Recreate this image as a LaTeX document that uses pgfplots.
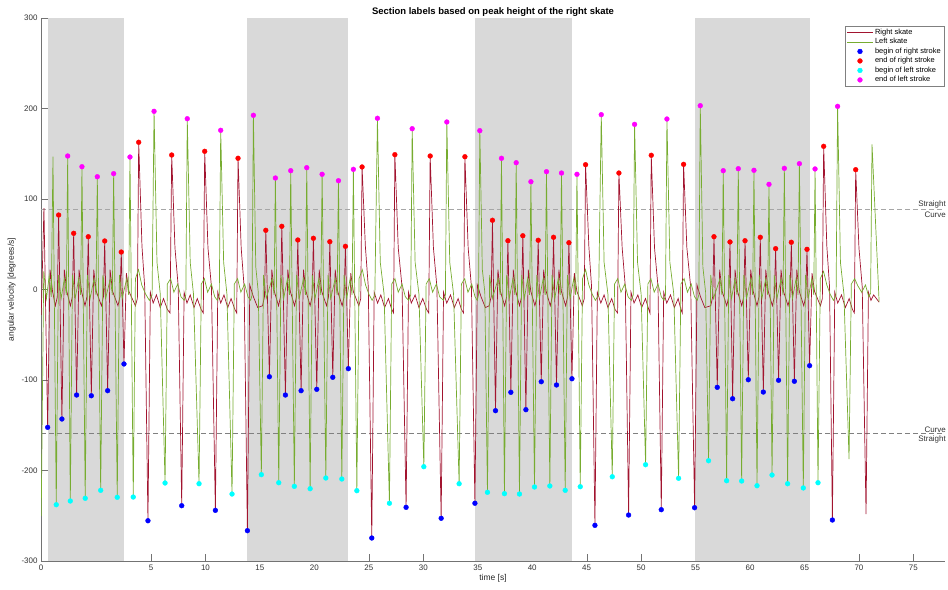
\documentclass[border=0pt]{standalone}
\usepackage{pgfplots}
\pgfplotsset{compat=1.18}
\usepackage{fontspec}
\setmainfont{Liberation Sans}

\definecolor{rightskate}{RGB}{162,20,47}
\definecolor{leftskate}{RGB}{119,172,48}
\definecolor{section}{RGB}{217,217,217}
\definecolor{mblue}{RGB}{0,0,255}
\definecolor{mred}{RGB}{255,0,0}
\definecolor{mcyan}{RGB}{0,255,255}
\definecolor{mmagenta}{RGB}{255,0,255}

\begin{document}
\begin{tikzpicture}
\path[use as bounding box] (-41bp,-29bp) rectangle (907bp,561bp);
\begin{axis}[
  at={(0,0)}, anchor=south west,
  scale only axis, width=904bp, height=543bp,
  xmin=-5.1, xmax=77.9, ymin=-300, ymax=300,
  axis lines=left, axis line style={-, black!55},
  tick align=inside, major tick length=7bp,
  tick style={black!55},
  xtick={-5.1,5,10,15,20,25,30,35,40,45,50,55,60,65,70,75},
  xticklabels={0,5,10,15,20,25,30,35,40,45,50,55,60,65,70,75},
  ytick={-300,-200,-100,0,100,200,300},
  /pgf/number format/assume math mode=true,
  ticklabel style={font=\fontsize{8}{9.5}\selectfont, text=black!80},
  xlabel={time [s]}, ylabel={angular velocity [degrees/s]},
  label style={font=\fontsize{8.5}{10}\selectfont, text=black!85},
  xlabel style={yshift=3bp},
  ylabel style={yshift=-1bp},
  title={\bfseries Section labels based on peak height of the right skate},
  title style={font=\fontsize{9.5}{11}\selectfont, yshift=-8bp},
  legend style={at={(0.999,0.986)}, anchor=north east, draw=black!50,
    font=\fontsize{7.5}{8.5}\selectfont, inner sep=1.2pt, row sep=-1.4pt,
    legend cell align=left},
  legend image code/.code={\draw[mark repeat=2,mark phase=2,#1]
    plot coordinates {(0cm,0cm) (0.45cm,0cm) (0.9cm,0cm)};},
  clip=true,
]
% curve sections
\addplot[fill=section, draw=none, forget plot] coordinates {(-4.49,-300) (-4.49,300) (2.52,300) (2.52,-300)} -- cycle;
\addplot[fill=section, draw=none, forget plot] coordinates {(13.85,-300) (13.85,300) (23.12,300) (23.12,-300)} -- cycle;
\addplot[fill=section, draw=none, forget plot] coordinates {(34.74,-300) (34.74,300) (43.65,300) (43.65,-300)} -- cycle;
\addplot[fill=section, draw=none, forget plot] coordinates {(54.91,-300) (54.91,300) (65.47,300) (65.47,-300)} -- cycle;

% thresholds
\addplot[black!35, dash pattern=on 5bp off 3bp, line width=0.6bp, forget plot] coordinates {(-5.1,89) (77.9,89)};
\addplot[black!50, dash pattern=on 5bp off 3bp, line width=0.6bp, forget plot] coordinates {(-5.1,-159) (77.9,-159)};

% right skate
\addplot[rightskate, line width=0.7bp] coordinates {
(-5.08,-28) (-4.83,90) (-4.49,-152.3) (-4.27,22) (-4.04,-2) (-3.78,-18) (-3.60,-8) (-3.48,82.3)
(-3.18,-143.1) (-2.96,22) (-2.73,-2) (-2.40,-18) (-2.22,-8) (-2.10,62.1)
(-1.83,-116.6) (-1.61,22) (-1.38,-2) (-1.06,-18) (-0.88,-8) (-0.76,58.3)
(-0.48,-117.4) (-0.26,22) (-0.03,-2) (0.45,-18) (0.63,-8) (0.75,53.6)
(1.02,-111.8) (1.24,22) (1.47,-2) (1.97,-18) (2.15,-8) (2.27,41.4)
(2.52,-82.3) (2.74,18) (2.97,-2) (3.57,-18) (3.75,-10) (3.87,162.7)
(4.17,48) (4.42,3) (4.72,-255.5)
(4.94,-3) (5.2,-15) (5.5,-6) (5.85,-20) (6.15,-10) (6.5,-22) (6.75,-26) (6.90,148.6)
(7.2,46) (7.5,3) (7.82,-238.9)
(8.04,-3) (8.3,-15) (8.6,-6) (8.95,-20) (9.25,-10) (9.6,-22) (9.8,-26) (9.93,152.7)
(10.23,46) (10.55,3) (10.91,-244.0)
(11.13,-3) (11.4,-15) (11.7,-6) (12.05,-20) (12.35,-10) (12.7,-22) (12.87,-26) (12.99,145.0)
(13.28,46) (13.55,3) (13.85,-266.5)
(14.07,5) (14.4,-8) (14.8,-20) (15.24,-18) (15.42,-8) (15.54,65.4)
(15.87,-96.4) (16.09,22) (16.32,-2) (16.71,-18) (16.89,-8) (17.01,69.8)
(17.34,-116.6) (17.56,22) (17.79,-2) (18.18,-18) (18.36,-8) (18.48,54.7)
(18.78,-111.8) (19.00,22) (19.23,-2) (19.61,-18) (19.79,-8) (19.91,56.6)
(20.22,-110.3) (20.44,22) (20.67,-2) (21.12,-18) (21.30,-8) (21.42,52.8)
(21.69,-97.0) (21.91,22) (22.14,-2) (22.55,-18) (22.73,-8) (22.85,47.7)
(23.12,-87.5) (23.34,18) (23.57,-2) (24.08,-18) (24.26,-10) (24.38,135.4)
(24.68,48) (24.95,3) (25.27,-274.6)
(25.49,-3) (25.8,-15) (26.1,-6) (26.45,-20) (26.8,-10) (27.1,-22) (27.27,-26) (27.39,149.0)
(27.7,46) (28.05,3) (28.42,-240.7)
(28.64,-3) (28.9,-15) (29.25,-6) (29.6,-20) (29.95,-10) (30.3,-22) (30.5,-26) (30.63,147.5)
(30.93,46) (31.25,3) (31.64,-252.8)
(31.86,-3) (32.15,-15) (32.5,-6) (32.85,-20) (33.2,-10) (33.5,-22) (33.7,-26) (33.82,146.7)
(34.12,46) (34.42,3) (34.74,-236.2)
(34.96,5) (35.3,-8) (35.7,-20) (36.05,-18) (36.23,-8) (36.35,76.5)
(36.63,-133.9) (36.85,22) (37.08,-2) (37.47,-18) (37.65,-8) (37.77,53.9)
(38.04,-113.6) (38.26,22) (38.49,-2) (38.84,-18) (39.02,-8) (39.14,59.4)
(39.42,-132.8) (39.64,22) (39.87,-2) (40.25,-18) (40.43,-8) (40.55,54.4)
(40.83,-101.9) (41.05,22) (41.28,-2) (41.66,-18) (41.84,-8) (41.96,57.7)
(42.23,-105.5) (42.45,22) (42.68,-2) (43.07,-18) (43.25,-8) (43.37,51.7)
(43.65,-98.6) (43.87,18) (44.10,-2) (44.60,-18) (44.78,-10) (44.90,137.9)
(45.2,48) (45.45,3) (45.76,-260.6)
(45.98,-3) (46.3,-15) (46.6,-6) (46.95,-20) (47.3,-10) (47.6,-22) (47.84,-26) (47.96,128.7)
(48.26,46) (48.55,3) (48.85,-249.2)
(49.07,-3) (49.35,-15) (49.7,-6) (50.05,-20) (50.4,-10) (50.7,-22) (50.81,-26) (50.93,148.3)
(51.23,46) (51.55,3) (51.85,-243.3)
(52.07,-3) (52.35,-15) (52.7,-6) (53.05,-20) (53.4,-10) (53.65,-22) (53.78,-26) (53.90,138.3)
(54.2,46) (54.55,3) (54.91,-241.1)
(55.13,5) (55.45,-8) (55.85,-20) (56.39,-18) (56.57,-8) (56.69,58.3)
(56.99,-108.1) (57.21,22) (57.44,-2) (57.86,-18) (58.04,-8) (58.16,52.5)
(58.40,-120.7) (58.62,22) (58.85,-2) (59.24,-18) (59.42,-8) (59.54,53.9)
(59.84,-99.7) (60.06,22) (60.29,-2) (60.64,-18) (60.82,-8) (60.94,57.7)
(61.22,-113.3) (61.44,22) (61.67,-2) (62.05,-18) (62.23,-8) (62.35,45.1)
(62.62,-100.3) (62.84,22) (63.07,-2) (63.49,-18) (63.67,-8) (63.79,52.2)
(64.07,-101.4) (64.29,22) (64.52,-2) (64.93,-18) (65.11,-8) (65.23,44.4)
(65.47,-84.2) (65.69,18) (65.92,-2) (66.46,-18) (66.64,-10) (66.76,158.2)
(67.05,48) (67.3,3) (67.56,-254.7)
(67.78,-3) (68.05,-15) (68.4,-6) (68.75,-20) (69.1,-10) (69.4,-22) (69.58,-26) (69.70,132.4)
(70.0,46) (70.3,3) (70.65,-248.1)
(70.87,-3) (71.1,-12) (71.35,-6) (71.6,-10) (71.85,-14)
};
\addlegendentry{Right skate}

% left skate
\addplot[leftskate, line width=0.7bp] coordinates {
(-5.08,-250) (-4.85,20) (-4.6,-10) (-4.35,15) (-4.15,-8) (-4.00,146.7)
(-3.70,-237.8) (-3.50,16) (-3.25,-10) (-2.95,12) (-2.77,-6) (-2.65,147.5)
(-2.41,-233.7) (-2.21,16) (-1.96,-10) (-1.64,12) (-1.46,-6) (-1.34,135.7)
(-1.04,-230.7) (-0.84,16) (-0.59,-10) (-0.23,12) (-0.05,-6) (0.07,124.6)
(0.38,-221.9) (0.58,16) (0.83,-10) (1.27,12) (1.45,-6) (1.57,128.0)
(1.90,-229.6) (2.10,16) (2.35,-10) (2.77,12) (2.95,-6) (3.07,146.4)
(3.37,-229.3) (3.57,12) (3.85,22) (4.15,5) (4.5,-5) (4.85,-12) (5.1,-6) (5.28,196.9)
(5.55,30) (5.85,-5) (6.29,-213.8)
(6.5,6) (6.8,12) (7.1,-3) (7.45,6) (7.75,-8) (8.05,-12) (8.2,-6) (8.33,188.7)
(8.6,30) (8.9,-5) (9.41,-214.6)
(9.62,6) (9.9,12) (10.2,-3) (10.55,6) (10.85,-8) (11.1,-12) (11.27,-6) (11.40,175.9)
(11.67,30) (11.97,-5) (12.44,-226.0)
(12.65,6) (12.95,12) (13.25,-3) (13.6,6) (13.9,-8) (14.15,-12) (14.28,-6) (14.40,192.5)
(14.62,25) (14.85,-3) (15.13,-204.6)
(15.33,16) (15.58,-10) (16.12,12) (16.30,-6) (16.42,123.2)
(16.73,-213.5) (16.93,16) (17.18,-10) (17.53,12) (17.71,-6) (17.83,131.3)
(18.16,-217.5) (18.36,16) (18.61,-10) (19.00,12) (19.18,-6) (19.30,134.6)
(19.61,-220.1) (19.81,16) (20.06,-10) (20.41,12) (20.59,-6) (20.71,127.3)
(21.05,-208.3) (21.25,16) (21.50,-10) (21.91,12) (22.09,-6) (22.21,120.2)
(22.52,-209.4) (22.72,16) (22.97,-10) (23.28,12) (23.46,-6) (23.58,132.8)
(23.90,-222.3) (24.1,12) (24.4,22) (24.7,5) (25.0,-5) (25.3,-12) (25.55,-6) (25.79,189.2)
(26.05,30) (26.4,-5) (26.89,-236.2)
(27.1,6) (27.4,12) (27.7,-3) (28.05,6) (28.35,-8) (28.65,-12) (28.85,-6) (28.98,177.7)
(29.25,30) (29.6,-5) (30.05,-195.8)
(30.26,6) (30.55,12) (30.85,-3) (31.2,6) (31.5,-8) (31.85,-12) (32.03,-6) (32.16,185.1)
(32.43,30) (32.78,-5) (33.29,-214.6)
(33.5,6) (33.8,12) (34.1,-3) (34.45,6) (34.75,-8) (34.95,-12) (35.07,-6) (35.19,175.5)
(35.42,22) (35.65,-3) (35.89,-224.1)
(36.09,16) (36.34,-10) (36.88,12) (37.06,-6) (37.18,145.0)
(37.45,-225.6) (37.65,16) (37.90,-10) (38.23,12) (38.41,-6) (38.53,140.1)
(38.83,-226.0) (39.03,16) (39.28,-10) (39.58,12) (39.76,-6) (39.88,119.1)
(40.21,-218.2) (40.41,16) (40.66,-10) (41.01,12) (41.19,-6) (41.31,130.2)
(41.62,-217.1) (41.82,16) (42.07,-10) (42.39,12) (42.57,-6) (42.69,128.7)
(43.03,-221.9) (43.23,16) (43.48,-10) (43.81,12) (43.99,-6) (44.11,127.3)
(44.41,-217.9) (44.62,12) (44.9,22) (45.2,5) (45.5,-5) (45.8,-12) (46.1,-6) (46.34,193.2)
(46.6,30) (46.95,-5) (47.35,-206.9)
(47.56,6) (47.85,12) (48.15,-3) (48.5,6) (48.8,-8) (49.1,-12) (49.27,-6) (49.40,182.5)
(49.67,30) (50.0,-5) (50.41,-193.6)
(50.62,6) (50.9,12) (51.2,-3) (51.55,6) (51.85,-8) (52.1,-12) (52.24,-6) (52.37,188.4)
(52.64,30) (53.0,-5) (53.44,-208.6)
(53.65,6) (53.95,12) (54.25,-3) (54.6,6) (54.9,-8) (55.15,-12) (55.3,-6) (55.43,203.1)
(55.67,25) (55.92,-3) (56.19,-189.2)
(56.39,16) (56.64,-10) (57.24,12) (57.42,-6) (57.54,131.3)
(57.85,-211.3) (58.05,16) (58.30,-10) (58.62,12) (58.80,-6) (58.92,133.5)
(59.23,-211.6) (59.43,16) (59.68,-10) (60.06,12) (60.24,-6) (60.36,131.7)
(60.64,-216.8) (60.84,16) (61.09,-10) (61.44,12) (61.62,-6) (61.74,116.2)
(62.02,-205.0) (62.22,16) (62.47,-10) (62.85,12) (63.03,-6) (63.15,133.9)
(63.45,-214.6) (63.65,16) (63.90,-10) (64.23,12) (64.41,-6) (64.53,139.0)
(64.89,-219.3) (65.09,16) (65.34,-10) (65.67,12) (65.85,-6) (65.97,133.2)
(66.24,-213.5) (66.45,12) (66.75,20) (67.05,5) (67.35,-5) (67.65,-12) (67.9,-6) (68.04,202.4)
(68.3,30) (68.62,-5) (69.09,-187.3)
(69.3,6) (69.6,12) (69.9,4) (70.25,-3) (70.6,5) (70.9,-8) (71.07,-4) (71.20,160.4)
(71.85,-13.5)
};
\addlegendentry{Left skate}

% begin of right stroke
\addplot[only marks, mark=*, mark size=2.4bp, mblue, mark options={draw=mblue, fill=mblue}] coordinates {
(-4.49,-152.3) (-3.18,-143.1) (-1.83,-116.6) (-0.48,-117.4) (1.02,-111.8) (2.52,-82.3)
(4.72,-255.5) (7.82,-238.9) (10.91,-244.0) (13.85,-266.5)
(15.87,-96.4) (17.34,-116.6) (18.78,-111.8) (20.22,-110.3) (21.69,-97.0) (23.12,-87.5)
(25.27,-274.6) (28.42,-240.7) (31.64,-252.8) (34.74,-236.2)
(36.63,-133.9) (38.04,-113.6) (39.42,-132.8) (40.83,-101.9) (42.23,-105.5) (43.65,-98.6)
(45.76,-260.6) (48.85,-249.2) (51.85,-243.3) (54.91,-241.1)
(56.99,-108.1) (58.40,-120.7) (59.84,-99.7) (61.22,-113.3) (62.62,-100.3) (64.07,-101.4) (65.47,-84.2)
(67.56,-254.7)
};
\addlegendentry{begin of right stroke}

% end of right stroke
\addplot[only marks, mark=*, mark size=2.4bp, mred, mark options={draw=mred, fill=mred}] coordinates {
(-3.48,82.3) (-2.10,62.1) (-0.76,58.3) (0.75,53.6) (2.27,41.4)
(3.87,162.7) (6.90,148.6) (9.93,152.7) (12.99,145.0)
(15.54,65.4) (17.01,69.8) (18.48,54.7) (19.91,56.6) (21.42,52.8) (22.85,47.7)
(24.38,135.4) (27.39,149.0) (30.63,147.5) (33.82,146.7)
(36.35,76.5) (37.77,53.9) (39.14,59.4) (40.55,54.4) (41.96,57.7) (43.37,51.7)
(44.90,137.9) (47.96,128.7) (50.93,148.3) (53.90,138.3)
(56.69,58.3) (58.16,52.5) (59.54,53.9) (60.94,57.7) (62.35,45.1) (63.79,52.2) (65.23,44.4)
(66.76,158.2) (69.70,132.4)
};
\addlegendentry{end of right stroke}

% begin of left stroke
\addplot[only marks, mark=*, mark size=2.4bp, mcyan, mark options={draw=mcyan, fill=mcyan}] coordinates {
(-3.70,-237.8) (-2.41,-233.7) (-1.04,-230.7) (0.38,-221.9) (1.90,-229.6) (3.37,-229.3)
(6.29,-213.8) (9.41,-214.6) (12.44,-226.0) (15.13,-204.6)
(16.73,-213.5) (18.16,-217.5) (19.61,-220.1) (21.05,-208.3) (22.52,-209.4) (23.90,-222.3)
(26.89,-236.2) (30.05,-195.8) (33.29,-214.6) (35.89,-224.1)
(37.45,-225.6) (38.83,-226.0) (40.21,-218.2) (41.62,-217.1) (43.03,-221.9) (44.41,-217.9)
(47.35,-206.9) (50.41,-193.6) (53.44,-208.6) (56.19,-189.2)
(57.85,-211.3) (59.23,-211.6) (60.64,-216.8) (62.02,-205.0) (63.45,-214.6) (64.89,-219.3) (66.24,-213.5)
};
\addlegendentry{begin of left stroke}

% end of left stroke
\addplot[only marks, mark=*, mark size=2.4bp, mmagenta, mark options={draw=mmagenta, fill=mmagenta}] coordinates {
(-2.65,147.5) (-1.34,135.7) (0.07,124.6) (1.57,128.0) (3.07,146.4)
(5.28,196.9) (8.33,188.7) (11.40,175.9) (14.40,192.5)
(16.42,123.2) (17.83,131.3) (19.30,134.6) (20.71,127.3) (22.21,120.2) (23.58,132.8)
(25.79,189.2) (28.98,177.7) (32.16,185.1) (35.19,175.5)
(37.18,145.0) (38.53,140.1) (39.88,119.1) (41.31,130.2) (42.69,128.7) (44.11,127.3)
(46.34,193.2) (49.40,182.5) (52.37,188.4) (55.43,203.1)
(57.54,131.3) (58.92,133.5) (60.36,131.7) (61.74,116.2) (63.15,133.9) (64.53,139.0) (65.97,133.2)
(68.04,202.4)
};
\addlegendentry{end of left stroke}

% section labels beside the thresholds
\node[anchor=south east, inner sep=1bp, xshift=2bp, font=\fontsize{8}{9.5}\selectfont, text=black!80] at (axis cs:77.9,89) {Straight};
\node[anchor=north east, inner sep=1bp, xshift=2bp, yshift=-1.5bp, font=\fontsize{8}{9.5}\selectfont, text=black!80] at (axis cs:77.9,89) {Curve};
\node[anchor=south east, inner sep=1bp, xshift=2bp, font=\fontsize{8}{9.5}\selectfont, text=black!80] at (axis cs:77.9,-159) {Curve};
\node[anchor=north east, inner sep=1bp, xshift=2bp, yshift=-1.5bp, font=\fontsize{8}{9.5}\selectfont, text=black!80] at (axis cs:77.9,-159) {Straight};
\end{axis}
\end{tikzpicture}
\end{document}
